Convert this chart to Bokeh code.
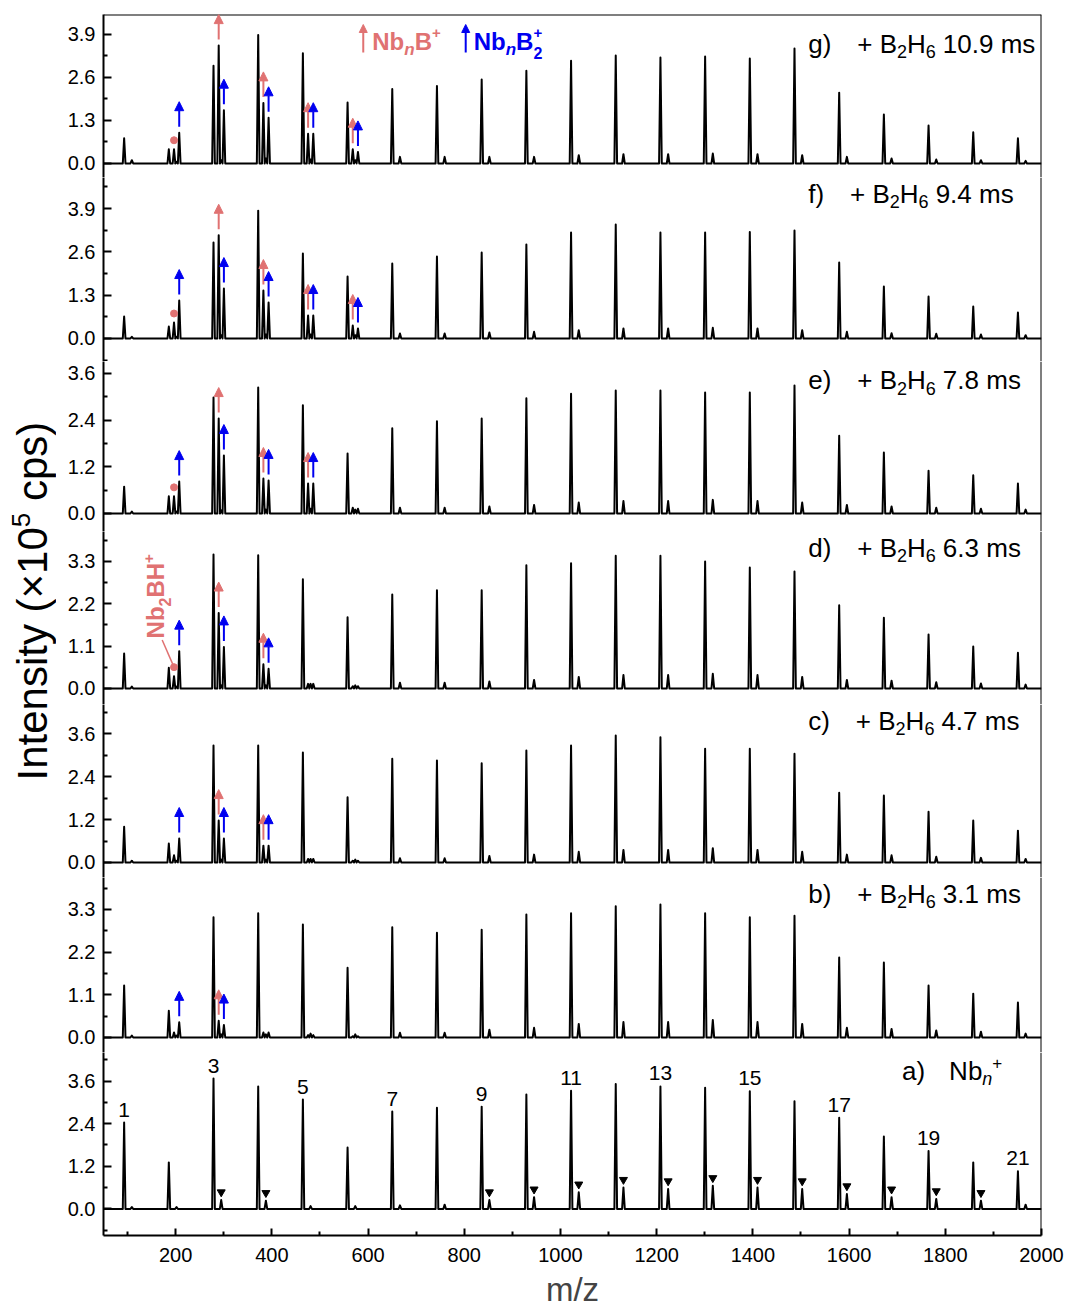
import math
from bokeh.plotting import figure
from bokeh.models import (Range1d, FixedTicker, Label, Arrow, NormalHead, Span,
                          ColumnDataSource, PrintfTickFormatter)
from bokeh.layouts import column, row
from bokeh.embed import file_html
from bokeh.resources import INLINE

# ---------------- data ----------------
MZ_NB = [92.9, 185.8, 278.7, 371.6, 464.5, 557.4, 650.3, 743.2, 836.2, 929.1, 1022.0,
         1114.9, 1207.8, 1300.7, 1393.6, 1486.5, 1579.4, 1672.3, 1765.2, 1858.1, 1951.0]
MZ_NBO = [108.9, 201.8, 294.7, 387.6, 480.5, 573.4, 666.3, 759.2, 852.2, 945.1, 1038.0,
          1130.9, 1223.8, 1316.7, 1409.6, 1502.5, 1595.4, 1688.3, 1781.2, 1874.1, 1967.0]
MZ_NBB = [196.6, 289.5, 382.4, 475.3, 568.2]     # Nb_nB+, n = 2..6
MZ_NBB2 = [207.4, 300.3, 393.2, 486.1, 579.0]    # Nb_nB2+, n = 2..6

H_NB_A = [2.43, 1.31, 3.67, 3.45, 3.08, 1.73, 2.74, 2.85, 2.88, 3.22, 3.33,
          3.52, 3.45, 3.41, 3.31, 3.03, 2.57, 2.04, 1.63, 1.31, 1.06]
H_NBO_A = [0.05, 0.05, 0.25, 0.23, 0.08, 0.08, 0.10, 0.12, 0.25, 0.33, 0.47,
           0.60, 0.56, 0.65, 0.60, 0.56, 0.42, 0.33, 0.28, 0.23, 0.12]
H_NBB_A = [0, 0, 0, 0, 0]
H_NBB2_A = [0, 0, 0, 0, 0]

H_NB_B = [1.34, 0.69, 3.10, 3.20, 2.91, 1.80, 2.84, 2.70, 2.78, 3.17, 3.20,
          3.38, 3.43, 3.20, 3.10, 3.14, 2.06, 1.93, 1.34, 1.13, 0.90]
H_NBB_B = [0.13, 0.43, 0.13, 0.06, 0.03]
H_NBB2_B = [0.39, 0.32, 0.13, 0.06, 0.03]
H_NBO_B = [0.05, 0.05, 0.08, 0.08, 0.10, 0.08, 0.12, 0.12, 0.20, 0.25, 0.35,
           0.40, 0.40, 0.45, 0.40, 0.35, 0.25, 0.22, 0.18, 0.15, 0.10]

H_NB_C = [1.00, 0.53, 3.27, 3.27, 3.07, 1.82, 2.90, 2.85, 2.77, 3.13, 3.27,
          3.55, 3.50, 3.18, 3.18, 3.04, 1.95, 1.87, 1.42, 1.17, 0.89]
H_NBB_C = [0.20, 1.17, 0.47, 0.10, 0.05]
H_NBB2_C = [0.67, 0.67, 0.47, 0.10, 0.05]
H_NBO_C = [0.05, 0.05, 0.08, 0.08, 0.10, 0.08, 0.12, 0.12, 0.18, 0.22, 0.30,
           0.35, 0.35, 0.40, 0.35, 0.30, 0.22, 0.20, 0.16, 0.13, 0.10]

H_NB_D = [0.91, 0.54, 3.48, 3.46, 2.84, 1.85, 2.44, 2.55, 2.55, 3.20, 3.25,
          3.45, 3.45, 3.30, 3.14, 3.04, 2.16, 1.84, 1.40, 1.09, 0.93]
H_NBB_D = [0.32, 1.96, 0.63, 0.12, 0.06]
H_NBB2_D = [0.97, 1.08, 0.51, 0.12, 0.06]
H_NBO_D = [0.05, 0.05, 0.08, 0.08, 0.12, 0.08, 0.15, 0.15, 0.18, 0.22, 0.30,
           0.35, 0.35, 0.38, 0.35, 0.30, 0.22, 0.20, 0.16, 0.13, 0.10]

H_NB_E = [0.69, 0.44, 2.98, 3.24, 2.78, 1.54, 2.19, 2.37, 2.44, 2.96, 3.08,
          3.16, 3.16, 3.11, 3.11, 3.29, 2.00, 1.57, 1.10, 0.98, 0.77]
H_NBB_E = [0.44, 2.44, 0.90, 0.77, 0.15]
H_NBB2_E = [0.82, 1.49, 0.85, 0.77, 0.12]
H_NBO_E = [0.05, 0.05, 0.08, 0.10, 0.12, 0.10, 0.15, 0.15, 0.18, 0.22, 0.28,
           0.32, 0.32, 0.35, 0.32, 0.28, 0.22, 0.18, 0.15, 0.12, 0.10]

H_NB_F = [0.66, 0.36, 2.88, 3.84, 2.55, 1.86, 2.25, 2.46, 2.58, 2.82, 3.18,
          3.42, 3.18, 3.18, 3.20, 3.24, 2.28, 1.56, 1.26, 0.96, 0.78]
H_NBB_F = [0.48, 3.10, 1.44, 0.69, 0.39]
H_NBB2_F = [1.14, 1.50, 1.08, 0.69, 0.30]
H_NBO_F = [0.05, 0.05, 0.10, 0.12, 0.12, 0.10, 0.15, 0.15, 0.18, 0.20, 0.25,
           0.30, 0.30, 0.32, 0.30, 0.25, 0.20, 0.16, 0.14, 0.12, 0.10]

H_NB_G = [0.76, 0.43, 2.95, 3.88, 3.33, 1.84, 2.25, 2.34, 2.54, 2.80, 3.10,
          3.26, 3.20, 3.23, 3.17, 3.47, 2.14, 1.48, 1.15, 0.94, 0.76]
H_NBB_G = [0.43, 3.56, 1.83, 0.90, 0.43]
H_NBB2_G = [0.93, 1.61, 1.38, 0.90, 0.35]
H_NBO_G = [0.10, 0.05, 0.10, 0.15, 0.12, 0.10, 0.20, 0.20, 0.20, 0.20, 0.25,
           0.28, 0.28, 0.30, 0.28, 0.25, 0.20, 0.15, 0.12, 0.10, 0.08]

YT_13 = [0.0, 1.3, 2.6, 3.9]
YT_12 = [0.0, 1.2, 2.4, 3.6]
YT_11 = [0.0, 1.1, 2.2, 3.3]
X_TICKS = [200, 400, 600, 800, 1000, 1200, 1400, 1600, 1800, 2000]
X_MINOR = [100, 300, 500, 700, 900, 1100, 1300, 1500, 1700, 1900]

RED_N = {"g": [3, 4, 5, 6], "f": [3, 4, 5, 6], "e": [3, 4, 5], "d": [3, 4], "c": [3, 4], "b": [3], "a": []}
BLUE_N = {"g": [2, 3, 4, 5, 6], "f": [2, 3, 4, 5, 6], "e": [2, 3, 4, 5], "d": [2, 3, 4], "c": [2, 3, 4], "b": [2, 3], "a": []}
DOT_PANELS = ["g", "f", "e", "d"]
TIMES = {"g": "10.9", "f": "9.4", "e": "7.8", "d": "6.3", "c": "4.7", "b": "3.1"}
LABEL_N_A = [1, 3, 5, 7, 9, 11, 13, 15, 17, 19, 21]
TRI_N_A = [3, 4, 9, 10, 11, 12, 13, 14, 15, 16, 17, 18, 19, 20]

# ---------------- style / layout ----------------
FONT = "Liberation Sans"
RED = "#E07272"
BLUE = "#0000F0"
X0, X1 = 50, 2000
FRAME_W = 938
LAB_W = 56
LEFT_B = 47
RIGHT_B = 24
TOP_B = 14
BOT_B = 72
XR = Range1d(X0, X1)
# frame heights (px) and y ranges of the stacked panels
FH = {"g": 163, "f": 184, "e": 170, "d": 173, "c": 173, "b": 175, "a": 186}
YR = {"g": (-0.423, 4.50), "f": (-0.691, 4.835), "e": (-0.463, 3.907), "d": (-0.416, 4.078),
      "c": (-0.419, 4.413), "b": (-0.387, 4.124), "a": (-0.748, 4.404)}
# distance (px) from frame top to the centre of the panel caption
LABEL_OFF = {"g": 29, "f": 16, "e": 18.5, "d": 16, "c": 16, "b": 16, "a": 19}

ADV = {' ': 278, '(': 333, ')': 333, '+': 584, '.': 278, '/': 278, '\u00d7': 584, 'B': 667, 'H': 722,
       'I': 278, 'N': 722, 'a': 556, 'b': 556, 'c': 500, 'd': 556, 'e': 556, 'f': 278, 'g': 556,
       'i': 222, 'm': 833, 'n': 556, 'p': 556, 's': 500, 't': 278, 'y': 500, 'z': 500}
ADV_B = {'N': 722, 'b': 611, 'n': 611, 'B': 722, 'H': 722, '+': 584, '2': 556}


def tw(s, size, bold=False):
    tot = 0
    for c in s:
        if bold and c in ADV_B:
            tot += ADV_B[c]
        else:
            tot += ADV.get(c, 556)
    return tot * size / 1000.0


def compose(p, x, y, parts, color="black"):
    """parts: (text, size, style, dy_px, advance) or a number = gap in px"""
    dx = 0.0
    for part in parts:
        if isinstance(part, (int, float)):
            dx += part
            continue
        txt, size, style, dy, adv = part
        p.add_layout(Label(x=x, y=y, x_offset=dx, y_offset=dy, text=txt, text_font=FONT,
                           text_font_size=f"{size}px", text_font_style=style, text_color=color,
                           text_baseline="middle", text_align="left"))
        if adv:
            dx += tw(txt, size, "bold" in style)


def style_axis(ax, standoff):
    ax.axis_line_width = 2
    ax.axis_line_color = "black"
    ax.major_tick_line_width = 2
    ax.minor_tick_line_width = 2
    ax.major_tick_in = 8
    ax.major_tick_out = 0
    ax.minor_tick_in = 4
    ax.minor_tick_out = 0
    ax.major_label_text_font = FONT
    ax.major_label_text_font_size = "20px"
    ax.major_label_text_color = "black"
    ax.major_label_standoff = standoff


def add_arrows(p, xs, hs, color, scale):
    if not xs:
        return
    gap = 6.0 / scale
    ln = 25.0 / scale
    src = ColumnDataSource(dict(x=xs, y0=[h + gap for h in hs], y1=[h + gap + ln for h in hs]))
    p.add_layout(Arrow(source=src, x_start="x", y_start="y0", x_end="x", y_end="y1",
                       line_color=color, line_width=2,
                       end=NormalHead(size=9, fill_color=color, line_color=color, line_width=1)))


def panel(key, nb, nbb, nbb2, nbo, yticks, first=False, last=False):
    yr = YR[key]
    fh = FH[key]
    top_b = TOP_B if first else 0
    bot_b = BOT_B if last else 0
    p = figure(width=LEFT_B + FRAME_W + RIGHT_B, height=top_b + fh + bot_b, x_range=XR,
               y_range=Range1d(*yr), output_backend="svg", toolbar_location=None,
               x_axis_location="below" if last else None, y_axis_location="left",
               min_border_left=LEFT_B, min_border_right=RIGHT_B, min_border_top=top_b,
               min_border_bottom=bot_b, outline_line_color=None,
               background_fill_color=None, border_fill_color=None)
    p.xgrid.visible = False
    p.ygrid.visible = False
    scale = fh / (yr[1] - yr[0])

    ya = p.yaxis[0]
    step = yticks[1] - yticks[0]
    minors = [t + step / 2 for t in [yticks[0] - step] + yticks]
    minors = [m for m in minors if yr[0] <= m <= yr[1]]
    ya.ticker = FixedTicker(ticks=yticks, minor_ticks=minors)
    ya.formatter = PrintfTickFormatter(format="%.1f")
    style_axis(ya, 8)
    p.add_layout(Span(location=X1, dimension="height", line_color="black", line_width=2))
    if first:
        p.add_layout(Span(location=yr[1], dimension="width", line_color="black", line_width=2))
    if last:
        xa = p.xaxis[0]
        xa.ticker = FixedTicker(ticks=X_TICKS, minor_ticks=X_MINOR)
        style_axis(xa, 12)
        xa.major_tick_in = 7
        xa.axis_label = "m/z"
        xa.axis_label_text_font = FONT
        xa.axis_label_text_font_size = "33px"
        xa.axis_label_text_font_style = "normal"
        xa.axis_label_standoff = 6

    peaks = list(zip(MZ_NB, nb)) + list(zip(MZ_NBO, nbo)) + list(zip(MZ_NBB, nbb)) + list(zip(MZ_NBB2, nbb2))
    peaks = sorted(pk for pk in peaks if pk[1] > 0)
    hw = 2.8
    xs, ys = [X0], [0.0]
    for mz, h in peaks:
        xs += [mz - hw, mz, mz + hw]
        ys += [0.0, h, 0.0]
    xs.append(X1)
    ys.append(0.0)
    p.line(xs, ys, line_color="black", line_width=2, line_join="round")

    add_arrows(p, [MZ_NBB[n - 2] for n in RED_N[key]], [nbb[n - 2] for n in RED_N[key]], RED, scale)
    add_arrows(p, [MZ_NBB2[n - 2] for n in BLUE_N[key]], [nbb2[n - 2] for n in BLUE_N[key]], BLUE, scale)

    if key in DOT_PANELS:
        p.scatter([MZ_NBB[0]], [nbb[0] + 9.0 / scale], size=7, color=RED, marker="circle")

    ycap = yr[1] - LABEL_OFF[key] / scale
    if key == "a":
        compose(p, 1710, ycap, [(f"{key})", 26, "normal", 0, True), 24,
                                ("Nb", 26, "normal", 0, True), ("n", 18, "italic", -8, True),
                                ("+", 17, "normal", 8, True)])
    else:
        compose(p, 1515, ycap, [(f"{key})", 26, "normal", 0, True), 26,
                                ("+ B", 26, "normal", 0, True), ("2", 18, "normal", -8, True),
                                ("H", 26, "normal", 0, True), ("6", 18, "normal", -8, True), 7,
                                (TIMES[key] + " ms", 26, "normal", 0, True)])
    return p, scale


pg, sg = panel("g", H_NB_G, H_NBB_G, H_NBB2_G, H_NBO_G, YT_13, first=True)
pf, sf = panel("f", H_NB_F, H_NBB_F, H_NBB2_F, H_NBO_F, YT_13)
pe, se = panel("e", H_NB_E, H_NBB_E, H_NBB2_E, H_NBO_E, YT_12)
pd, sd = panel("d", H_NB_D, H_NBB_D, H_NBB2_D, H_NBO_D, YT_11)
pc, sc = panel("c", H_NB_C, H_NBB_C, H_NBB2_C, H_NBO_C, YT_12)
pb, sb = panel("b", H_NB_B, H_NBB_B, H_NBB2_B, H_NBO_B, YT_11)
pa, sa = panel("a", H_NB_A, H_NBB_A, H_NBB2_A, H_NBO_A, YT_12, last=True)

# legend in panel g (caption centre 27 px below the frame top)
ly = YR["g"][1] - 27 / sg
pg.add_layout(Arrow(x_start=590, y_start=ly - 11 / sg, x_end=590, y_end=ly + 17 / sg,
                    line_color=RED, line_width=2,
                    end=NormalHead(size=8, fill_color=RED, line_color=RED, line_width=1)))
compose(pg, 590, ly, [9, ("Nb", 24, "bold", 0, True), ("n", 17, "bold italic", -8, True),
                      ("B", 24, "bold", 0, True), ("+", 15, "bold", 9, True)], color=RED)
pg.add_layout(Arrow(x_start=803, y_start=ly - 11 / sg, x_end=803, y_end=ly + 17 / sg,
                    line_color=BLUE, line_width=2,
                    end=NormalHead(size=8, fill_color=BLUE, line_color=BLUE, line_width=1)))
compose(pg, 803, ly, [8, ("Nb", 24, "bold", 0, True), ("n", 17, "bold italic", -8, True),
                      ("B", 24, "bold", 0, True), ("2", 16, "bold", -11, False),
                      ("+", 15, "bold", 9, True)], color=BLUE)

# Nb2BH+ annotation in panel d (rotated)
dot_y = H_NBB_D[0] + 9.0 / sd
pd.segment(x0=[MZ_NBB[0]], y0=[dot_y], x1=[172], y1=[1.26], line_color=RED, line_width=1.5)
ry = 1.30
rx = 159
pd.add_layout(Label(x=rx, y=ry, text="Nb", angle=math.pi / 2, text_font=FONT,
                    text_font_size="24px", text_font_style="bold", text_color=RED,
                    text_baseline="middle", text_align="left"))
w_nb = tw("Nb", 24, True)
pd.add_layout(Label(x=rx, y=ry + w_nb / sd, x_offset=9, text="2", angle=math.pi / 2, text_font=FONT,
                    text_font_size="16px", text_font_style="bold", text_color=RED,
                    text_baseline="middle", text_align="left"))
w2 = tw("2", 16, True)
pd.add_layout(Label(x=rx, y=ry + (w_nb + w2) / sd, text="BH", angle=math.pi / 2, text_font=FONT,
                    text_font_size="24px", text_font_style="bold", text_color=RED,
                    text_baseline="middle", text_align="left"))
w_bh = tw("BH", 24, True)
pd.add_layout(Label(x=rx, y=ry + (w_nb + w2 + w_bh) / sd, x_offset=-7, text="+", angle=math.pi / 2,
                    text_font=FONT, text_font_size="15px", text_font_style="bold", text_color=RED,
                    text_baseline="middle", text_align="left"))

# panel a: cluster numbers and oxide triangles
for n in LABEL_N_A:
    pa.add_layout(Label(x=MZ_NB[n - 1], y=H_NB_A[n - 1], y_offset=13, text=str(n), text_font=FONT,
                        text_font_size="21px", text_color="black", text_align="center",
                        text_baseline="middle"))
pa.scatter([MZ_NBO[n - 1] for n in TRI_N_A], [H_NBO_A[n - 1] + 8.0 / sa for n in TRI_N_A],
           marker="inverted_triangle", size=8, color="black")

# y label figure (pixel coordinates, y measured from the bottom)
TOTAL_H = TOP_B + sum(FH.values()) + BOT_B
lab = figure(width=LAB_W, height=TOTAL_H, x_range=Range1d(0, LAB_W), y_range=Range1d(0, TOTAL_H),
             output_backend="svg", toolbar_location=None, x_axis_location=None,
             y_axis_location=None, min_border=0, outline_line_color=None,
             background_fill_color=None, border_fill_color=None)
lab.xgrid.visible = False
lab.ygrid.visible = False
bx = 32
y0 = TOTAL_H - 780
t1 = "Intensity (\u00d710"
w1 = tw(t1, 42)
lab.add_layout(Label(x=bx, y=y0, text=t1, angle=math.pi / 2, text_font=FONT, text_font_size="42px",
                     text_baseline="middle", text_align="left", text_color="black"))
lab.add_layout(Label(x=bx - 12, y=y0 + w1, text="5", angle=math.pi / 2, text_font=FONT,
                     text_font_size="26px", text_baseline="middle", text_align="left",
                     text_color="black"))
w5 = tw("5", 26) + tw(" ", 42)
lab.add_layout(Label(x=bx, y=y0 + w1 + w5, text="cps)", angle=math.pi / 2, text_font=FONT,
                     text_font_size="42px", text_baseline="middle", text_align="left",
                     text_color="black"))

layout = row(lab, column(pg, pf, pe, pd, pc, pb, pa))
open("out.html", "w").write(file_html(layout, INLINE))
